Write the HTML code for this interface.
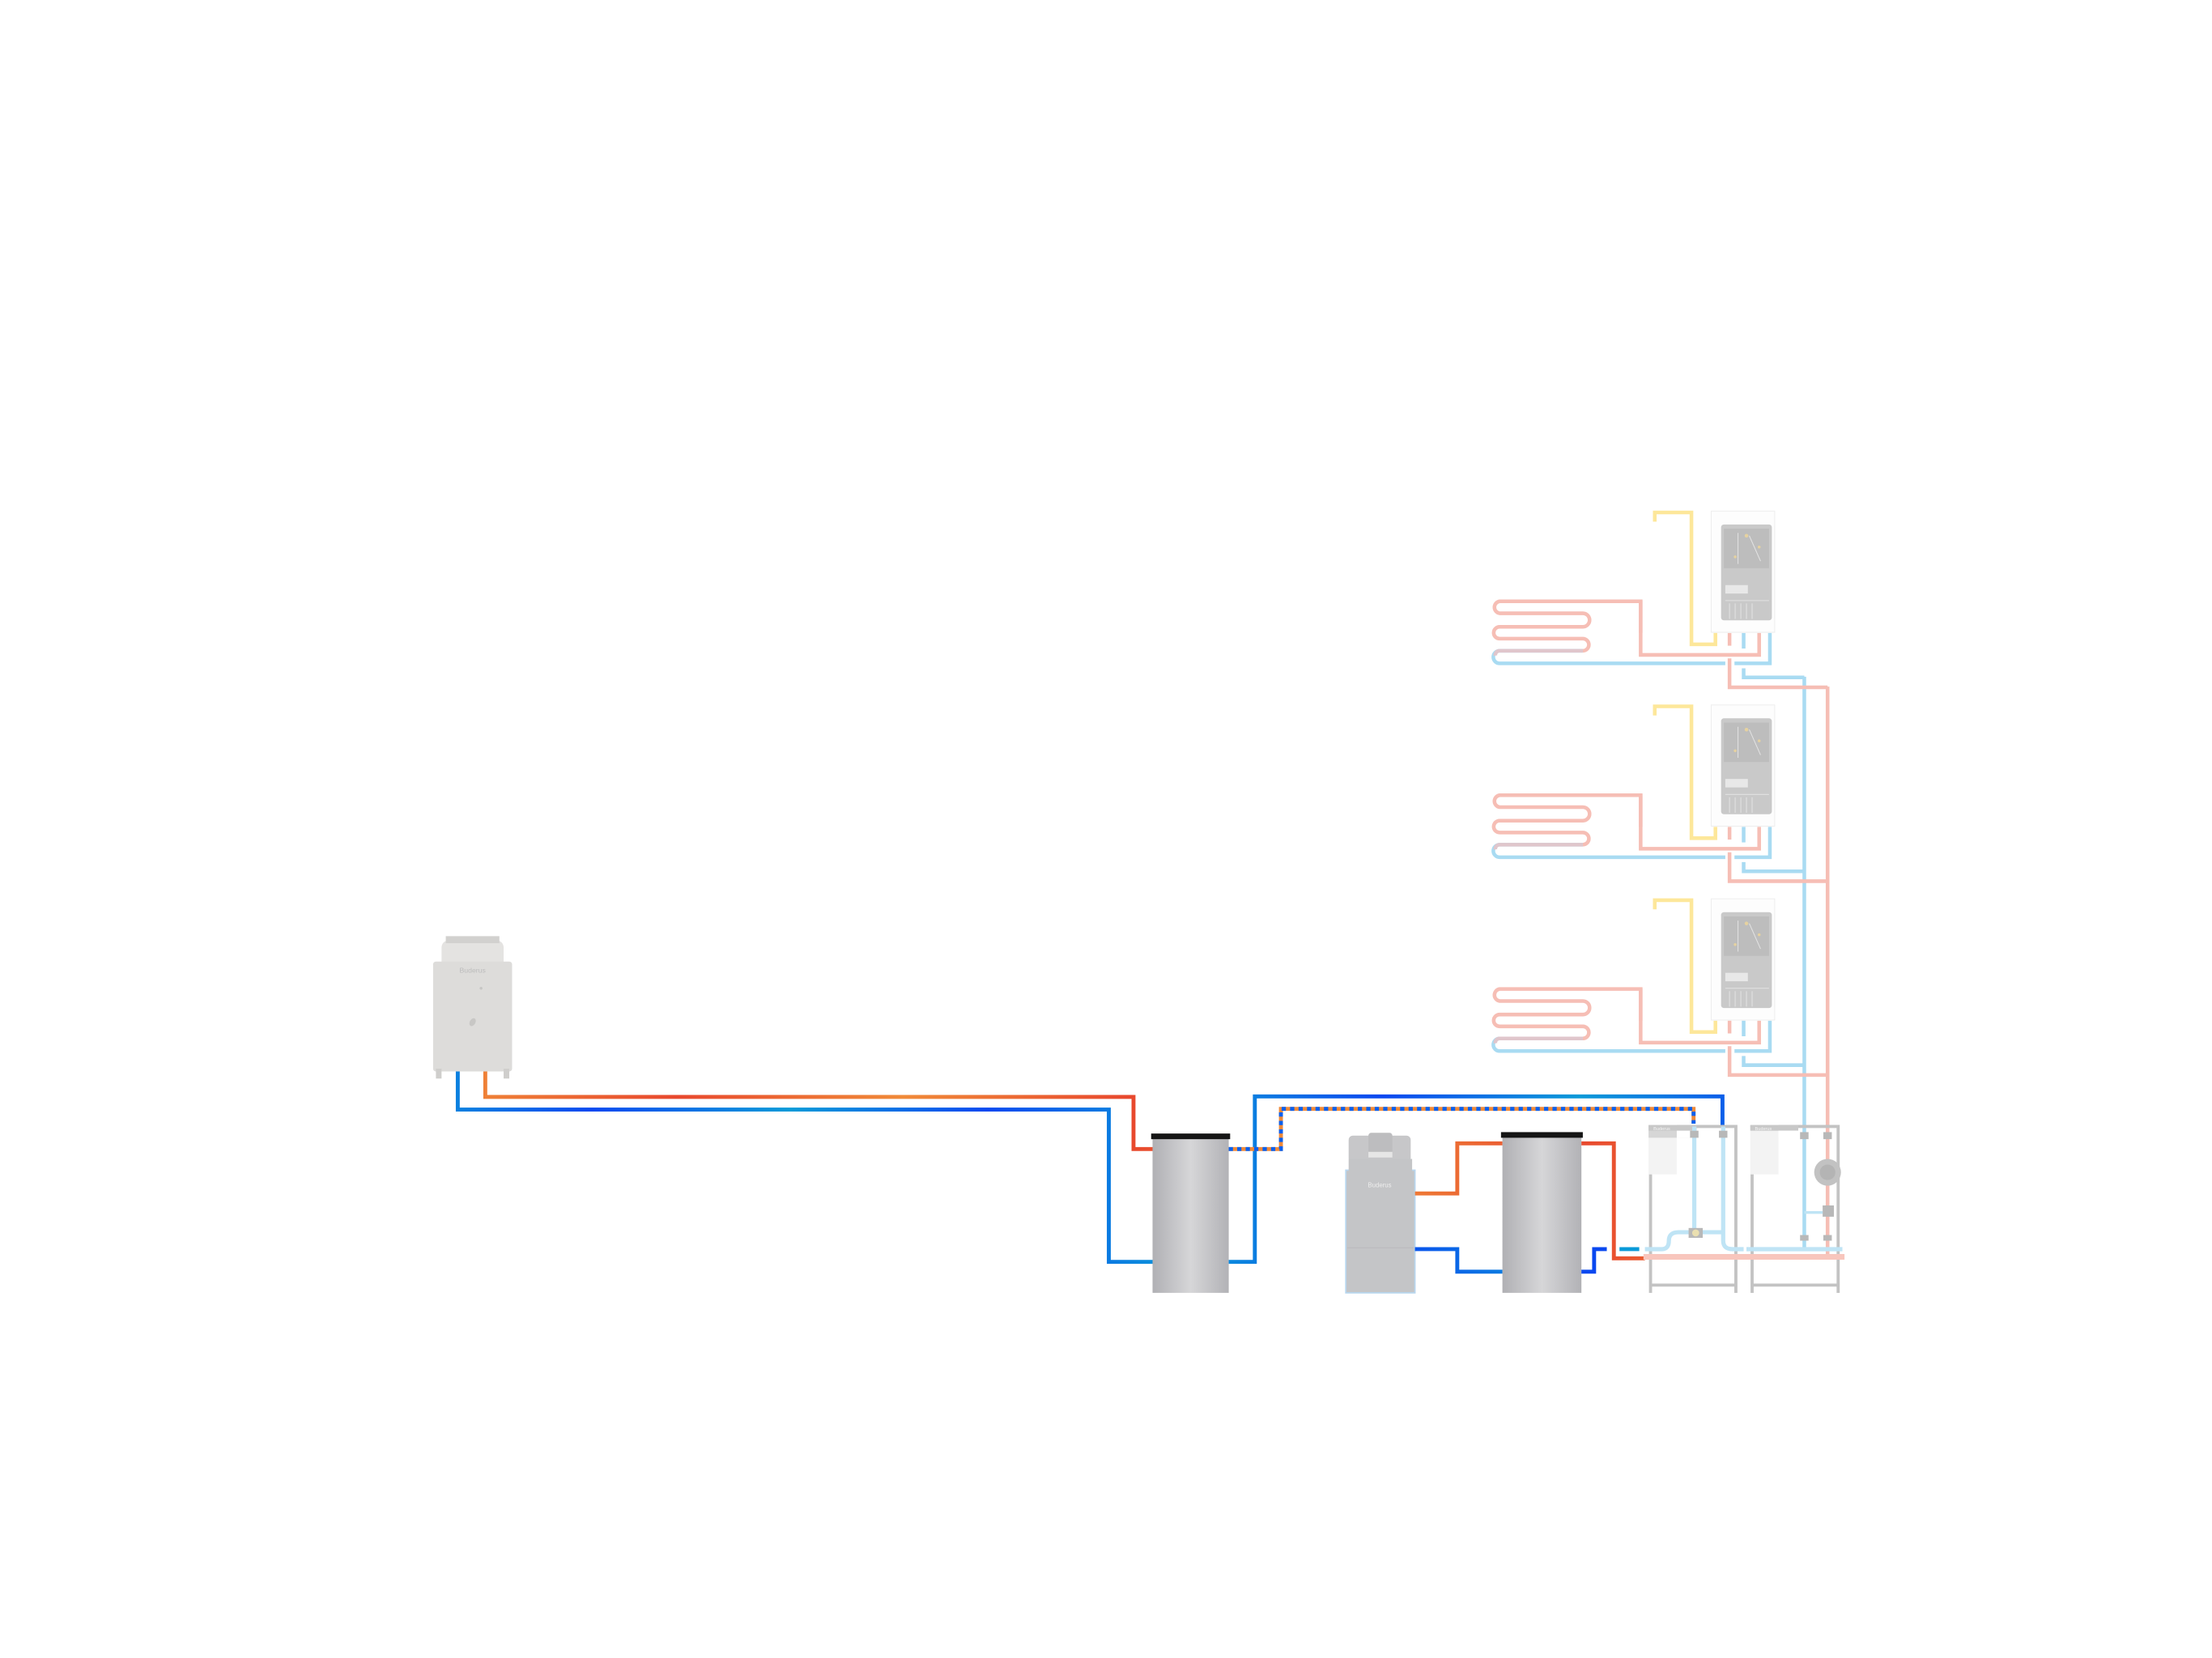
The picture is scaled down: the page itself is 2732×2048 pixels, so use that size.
<!DOCTYPE html>
<html><head><meta charset="utf-8"><style>html,body{margin:0;padding:0;background:#fff}svg{display:block}</style></head><body>
<svg width="2732" height="2048" viewBox="0 0 1568 1176" preserveAspectRatio="none" xmlns="http://www.w3.org/2000/svg">
<defs>
<linearGradient id="hot" gradientUnits="userSpaceOnUse" x1="0" y1="0" x2="160" y2="0" spreadMethod="reflect"><stop offset="0" stop-color="#f08a38"/><stop offset="1" stop-color="#e8482e"/></linearGradient>
<linearGradient id="cold" gradientUnits="userSpaceOnUse" x1="0" y1="0" x2="140" y2="0" spreadMethod="reflect"><stop offset="0" stop-color="#0a9ad8"/><stop offset="1" stop-color="#0a48f0"/></linearGradient>
<linearGradient id="tank" x1="0" y1="0" x2="1" y2="0"><stop offset="0" stop-color="#b0b0b4"/><stop offset="0.5" stop-color="#d6d6d8"/><stop offset="1" stop-color="#b2b2b6"/></linearGradient>
<g id="unit">
<!-- yellow -->
<polyline points="1173,370 1173,363.5 1199,363.5 1199,457 1216,457 1216,449" fill="none" stroke="#fde79a" stroke-width="2.6"/>
<!-- coil -->
<path d="M1163,449 L1163,426.5 L1063,426.5 A4.3,4.3 0 0 0 1063,435 L1122,435 A4.8,4.8 0 0 1 1122,444.6 L1063,444.6 A4.2,4.2 0 0 0 1063,453 L1122,453 A4.3,4.3 0 0 1 1122,461.6" fill="none" stroke="#f6beb5" stroke-width="2.6"/>
<polyline points="1163,426 1163,464.5 1247,464.5 1247,449" fill="none" stroke="#f6beb5" stroke-width="2.6"/>
<path d="M1122,461.6 L1063,461.6 A4.45,4.45 0 0 0 1063,470.5 L1223,470.5" fill="none" stroke="#a9dbf2" stroke-width="2.6"/>
<path d="M1122,461.6 L1063,461.6 A3,3 0 0 0 1060,465" fill="none" stroke="#e0c6cc" stroke-width="2.6"/>
<polyline points="1229.5,470.5 1254.6,470.5 1254.6,449" fill="none" stroke="#a9dbf2" stroke-width="2.6"/>
<line x1="1236" y1="449" x2="1236" y2="460" stroke="#a9dbf2" stroke-width="2.6"/>
<line x1="1226" y1="449" x2="1226" y2="458" stroke="#f6beb5" stroke-width="2.6"/>
<polyline points="1226,467 1226,487.5 1295.5,487.5" fill="none" stroke="#f6beb5" stroke-width="2.6"/>
<polyline points="1236,474 1236,480.5 1279,480.5" fill="none" stroke="#a9dbf2" stroke-width="2.6"/>
<!-- box -->
<rect x="1213" y="362.5" width="45" height="86" fill="#fdfdfd" stroke="#eeeeee" stroke-width="0.6"/>
<rect x="1220" y="372" width="36" height="68" rx="2" fill="#c9c9c9"/>
<rect x="1222" y="375" width="32" height="28" fill="#bdbdbd"/>
<rect x="1223" y="415" width="16" height="6" fill="#e8e8e8"/>
<g stroke="#e2e2e2" stroke-width="0.6"><line x1="1223" y1="426" x2="1254" y2="426"/><line x1="1226" y1="428" x2="1226" y2="439"/><line x1="1230" y1="428" x2="1230" y2="439"/><line x1="1234" y1="428" x2="1234" y2="439"/><line x1="1238" y1="428" x2="1238" y2="439"/><line x1="1242" y1="428" x2="1242" y2="439"/><line x1="1232" y1="378" x2="1232" y2="400"/><line x1="1240" y1="380" x2="1248" y2="398"/></g>
<g fill="#e6d2a0"><circle cx="1238" cy="380" r="1.3"/><circle cx="1247" cy="388" r="1"/><circle cx="1230" cy="395" r="1"/></g>
</g>
</defs>
<rect width="1568" height="1176" fill="#fff"/>
<!-- risers -->
<line x1="1279" y1="480" x2="1279" y2="886" stroke="#a9dbf2" stroke-width="2.6"/>
<line x1="1295.5" y1="487" x2="1295.5" y2="892" stroke="#f6beb5" stroke-width="2.6"/>
<use href="#unit"/>
<use href="#unit" y="137.5"/>
<use href="#unit" y="275"/>

<!-- heat pump -->
<rect x="313" y="667" width="44" height="20" rx="5" fill="#e4e3e1"/>
<rect x="316" y="664" width="38" height="5" fill="#d2d1cf"/>
<rect x="307" y="682" width="56" height="78" rx="2" fill="#dddcda"/>
<rect x="309" y="758" width="4" height="7" fill="#cfcecc"/><rect x="357" y="758" width="4" height="7" fill="#cfcecc"/>
<text x="335" y="690" font-family="Liberation Sans, sans-serif" font-size="5" fill="#bcbcbc" text-anchor="middle">Buderus</text>
<ellipse cx="335" cy="725" rx="2" ry="3" fill="#c8c7c5" transform="rotate(30 335 725)"/>
<circle cx="341" cy="701" r="1" fill="#c6c6c4"/>

<!-- pipes from heat pump -->
<polyline points="344,760 344,778 803.5,778 803.5,815 817,815" fill="none" stroke="url(#hot)" stroke-width="2.8"/>
<polyline points="324.5,760 324.5,787 786,787 786,895 817,895" fill="none" stroke="url(#cold)" stroke-width="2.8"/>
<!-- tank 1 -->
<rect x="817" y="806" width="54" height="111" fill="url(#tank)"/>
<rect x="816" y="804" width="56" height="4" fill="#151515"/>
<!-- tank1 outgoing -->
<polyline points="871,895 889.5,895 889.5,777.7 1221,777.7 1221,798" fill="none" stroke="url(#cold)" stroke-width="2.8"/>
<polyline points="871,815 908,815 908,786.5 1200.5,786.5 1200.5,797" fill="none" stroke="#f08a38" stroke-width="2.8"/>
<polyline points="871,815 908,815 908,786.5 1200.5,786.5 1200.5,797" fill="none" stroke="#0a60ee" stroke-width="2.8" stroke-dasharray="3,3"/>

<!-- boiler -->
<rect x="954" y="830" width="49" height="87" fill="#c4c5c7" stroke="#b8d6ee" stroke-width="1"/>
<rect x="956" y="805.5" width="44" height="19" rx="3" fill="#c7c7c9"/>
<rect x="970" y="803.5" width="17" height="15" rx="2" fill="#bdbdbf"/>
<rect x="970" y="817" width="17" height="4" fill="#e6e6e6"/>
<rect x="956" y="822" width="45" height="10" fill="#c4c5c7"/>
<text x="978" y="842" font-family="Liberation Sans, sans-serif" font-size="4.5" fill="#eeeeee" text-anchor="middle">Buderus</text>
<line x1="955" y1="885" x2="1002" y2="885" stroke="#b8b8ba" stroke-width="0.5"/>
<polyline points="1003,846.5 1033,846.5 1033,811 1065,811" fill="none" stroke="url(#hot)" stroke-width="2.8"/>
<polyline points="1003,886 1033,886 1033,902 1065,902" fill="none" stroke="url(#cold)" stroke-width="2.8"/>
<!-- tank 2 -->
<rect x="1065" y="805" width="56" height="112" fill="url(#tank)"/>
<rect x="1064" y="803" width="58" height="4" fill="#151515"/>
<polyline points="1121,811 1144,811 1144,892.5 1166,892.5" fill="none" stroke="url(#hot)" stroke-width="2.8"/>
<polyline points="1121,902 1130,902 1130,886 1139,886" fill="none" stroke="#0a48f0" stroke-width="2.8"/>
<line x1="1148" y1="886" x2="1162" y2="886" stroke="#0a9ad8" stroke-width="2.8"/>

<!-- modules -->
<g fill="none" stroke="#c3c3c3" stroke-width="2.2">
<polyline points="1170,917 1170,799 1230.5,799 1230.5,917"/><line x1="1170" y1="911.5" x2="1230.5" y2="911.5"/>
<polyline points="1242,917 1242,799 1303,799 1303,917"/><line x1="1242" y1="911.5" x2="1303" y2="911.5"/>
</g>
<rect x="1168.6" y="798" width="20" height="35" fill="#f3f3f3"/>
<rect x="1168.6" y="798" width="34" height="9" fill="#d6d6d6" transform="scale(1)"/>
<rect x="1168.6" y="798" width="34" height="4" fill="#c8c8c8"/>
<rect x="1240.7" y="798" width="20" height="35" fill="#f3f3f3"/>
<rect x="1240.7" y="798" width="34" height="4" fill="#c8c8c8"/>
<rect x="1188.6" y="802" width="14" height="5" fill="#fff"/><rect x="1260.7" y="802" width="14" height="5" fill="#fff"/>
<text x="1178" y="801.6" font-family="Liberation Sans, sans-serif" font-size="3.2" fill="#f4f4f4" text-anchor="middle">Buderus</text>
<text x="1250" y="801.6" font-family="Liberation Sans, sans-serif" font-size="3.2" fill="#f4f4f4" text-anchor="middle">Buderus</text>
<!-- module internal pipes -->
<g fill="none" stroke="#bfe4f5" stroke-width="3">
<line x1="1201" y1="799" x2="1201" y2="872"/>
<path d="M1221.5,799 L1221.5,880 Q1221.5,886 1228,886 L1236,886"/>
<path d="M1166,886 L1178,886 Q1183,886 1183,880 Q1183,874 1190,874 L1215,874 L1221.5,874"/>
<line x1="1238" y1="886" x2="1306" y2="886"/>
</g>
<line x1="1165" y1="891.5" x2="1307.5" y2="891.5" stroke="#f8c6bd" stroke-width="4"/>
<g fill="#b8b8b8">
<rect x="1197" y="871" width="10" height="7"/><circle cx="1202" cy="874.5" r="2.5" fill="#eadfb0"/>
<rect x="1198" y="802" width="6" height="5"/><rect x="1218.5" y="802" width="6" height="5"/>
<rect x="1276" y="803" width="6" height="5"/><rect x="1292.5" y="803" width="6" height="5"/>
<rect x="1276" y="876" width="6" height="4"/><rect x="1292.5" y="876" width="6" height="4"/>
<circle cx="1295.5" cy="831.5" r="9.5" fill="#c2c2c2"/><circle cx="1295.5" cy="831.5" r="5.5" fill="#b4b4b4"/>
<rect x="1292" y="855" width="8" height="8"/>
</g>
<line x1="1279" y1="860" x2="1292" y2="860" stroke="#bfe4f5" stroke-width="2"/>
</svg>
</body></html>
